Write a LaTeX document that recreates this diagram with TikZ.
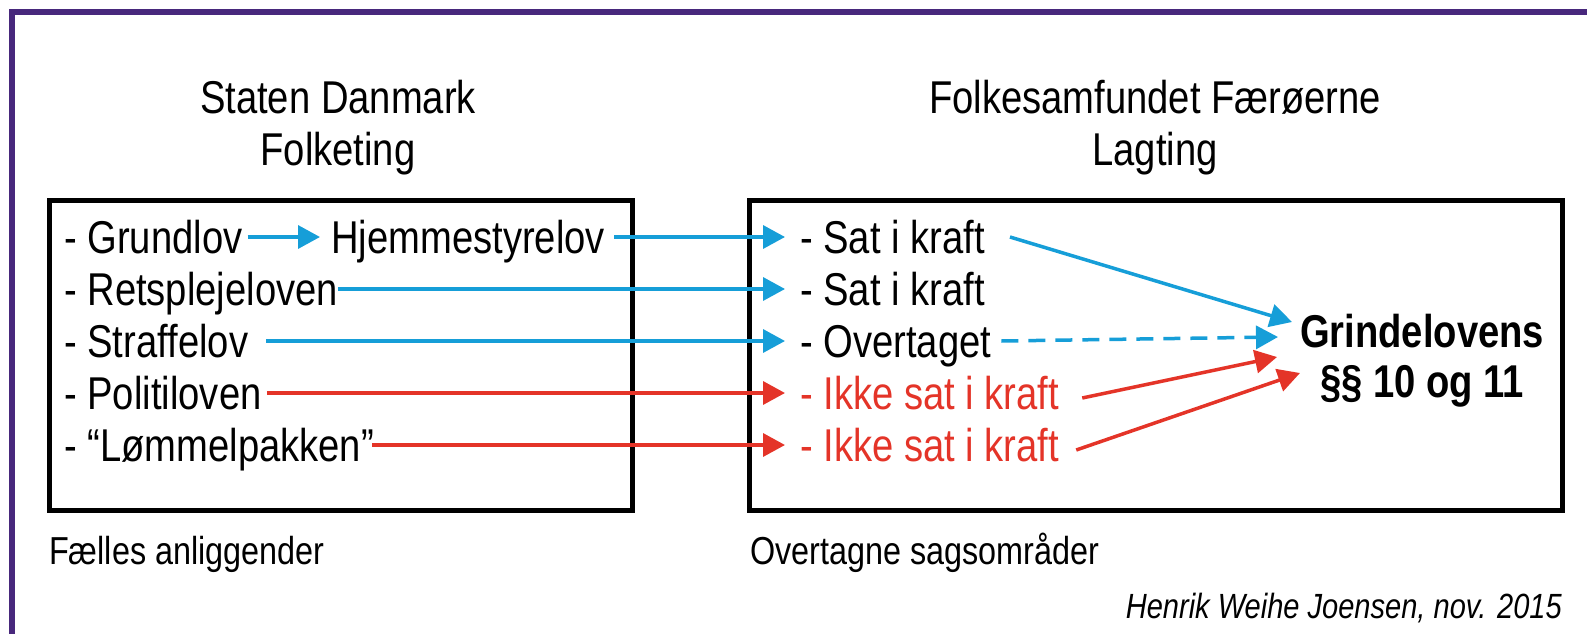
\documentclass[tikz,border=0pt]{standalone}
\usepackage{fontspec}
\setmainfont{Liberation Sans}[FakeStretch=0.83]
\usetikzlibrary{arrows.meta}

\definecolor{lawblue}{RGB}{22,158,216}
\definecolor{lawred}{RGB}{228,52,40}
\definecolor{framepurple}{RGB}{72,40,124}

\tikzset{
  head/.style={font=\fontsize{46}{50}\selectfont, inner sep=0pt, anchor=base},
  item/.style={font=\fontsize{46}{50}\selectfont, inner sep=0pt, anchor=west, text height=33pt, text depth=0pt},
  note/.style={font=\fontsize{39}{42}\selectfont, inner sep=0pt, anchor=base west},
  box/.style={draw, line width=5pt, minimum height=310pt},
  law/.style={line width=3.5pt, -{Triangle[length=22pt,width=23pt]}},
  bluearrow/.style={law, color=lawblue},
  redarrow/.style={law, color=lawred}
}

\begin{document}
\begin{tikzpicture}[x=1pt, y=1pt]
	\useasboundingbox (0,0) rectangle (1587,-634);
	\draw[framepurple, line width=6pt] (11.5,-700) |- (1700,-12);

	\node[box, minimum width=583pt] (dkbox) at (340.5,-355) {};
	\node[box, minimum width=813pt] (fobox) at (1155.5,-355) {};

	\node[head] (dkname) at (338,-113) {Staten Danmark};
	\node[head] (dkparl) at (338,-165) {Folketing};
	\node[head] (foname) at (1155,-113) {Folkesamfundet Færøerne};
	\node[head] (foparl) at (1155,-165) {Lagting};

	\node[item] (grundlov) at (64,-237) {- Grundlov};
	\node[item] (hjemme) at (331,-237) {Hjemmestyrelov};
	\node[item] (retspleje) at (64,-289) {- Retsplejeloven};
	\node[item] (straffe) at (64,-341) {- Straffelov};
	\node[item] (politi) at (64,-393) {- Politiloven};
	\node[item] (loemmel) at (64,-445) {- “Lømmelpakken”};

	\node[item] (kraft1) at (800,-237) {- Sat i kraft};
	\node[item] (kraft2) at (800,-289) {- Sat i kraft};
	\node[item] (overtaget) at (800,-341) {- Overtaget};
	\node[item, lawred] (ikke1) at (800,-393) {- Ikke sat i kraft};
	\node[item, lawred] (ikke2) at (800,-445) {- Ikke sat i kraft};

	\node[head, font=\fontsize{46}{50}\selectfont\bfseries] (grindelov) at (1422,-347) {Grindelovens};
	\node[head, font=\fontsize{46}{50}\selectfont\bfseries] (paragraf) at (1422,-397) {§§ 10 og 11};
	\coordinate (gin1) at (1292,-322);
	\coordinate (gin2) at (1278,-337);
	\coordinate (gin3) at (1277,-357);
	\coordinate (gin4) at (1300,-373);

	\draw[bluearrow, shorten <=5pt, shorten >=11pt] (grundlov) -- (hjemme);
	\draw[bluearrow, shorten <=9pt, shorten >=15pt] (hjemme) -- (kraft1);
	\draw[bluearrow, shorten >=15pt] (retspleje) -- (kraft2);
	\draw[bluearrow, shorten <=18pt, shorten >=15pt] (straffe) -- (overtaget);
	\draw[redarrow, shorten <=5pt, shorten >=15pt] (politi) -- (ikke1);
	\draw[redarrow, shorten <=-2pt, shorten >=15pt] (loemmel) -- (ikke2);

	\draw[bluearrow] ([xshift=25pt]kraft1.east) -- (gin1);
	\draw[bluearrow, dash pattern=on 17pt off 10pt] ([xshift=10pt]overtaget.east) -- (gin2);
	\draw[redarrow] ([shift={(23pt,-5pt)}]ikke1.east) -- (gin3);
	\draw[redarrow] ([shift={(17pt,-5pt)}]ikke2.east) -- (gin4);

	\node[note] (faelles) at (49,-564) {Fælles anliggender};
	\node[note] (overtagne) at (750,-564) {Overtagne sagsområder};
	\node[note, anchor=base east, font=\fontsize{35}{40}\selectfont\itshape] (signatur) at (1562,-618) {Henrik Weihe Joensen, nov. 2015};
\end{tikzpicture}
\end{document}
